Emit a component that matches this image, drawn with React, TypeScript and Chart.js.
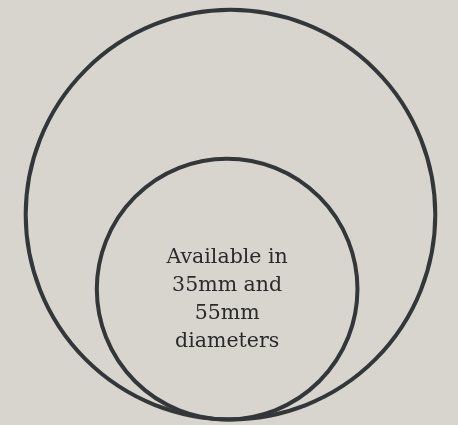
import React, { useEffect, useRef } from "react";
import { Chart, registerables } from "chart.js";

Chart.register(...registerables);

// Circle diameters (mm) and small horizontal offsets of their centres (mm)
const diametersMm = [55, 35];
const centerOffsetsMm = [0, -0.45];
const labelLines = ["Available in", "35mm and", "55mm", "diameters"];

// Axis extents (mm) – shared scale so circles stay round
const xRange = [-30.95, 30.55];
const yRange = [-0.75, 56.32];

const BG = "#d8d5cf";
const STROKE = "#33373a";
const TEXT = "#2a2a2a";

export default function App() {
  const ref = useRef<HTMLCanvasElement | null>(null);

  useEffect(() => {
    if (!ref.current) return;
    const labelPlugin = {
      id: "circleLabel",
      afterDatasetsDraw(chart: any) {
        const meta = chart.getDatasetMeta(0);
        const el = meta.data[1];
        if (!el) return;
        const ctx = chart.ctx;
        ctx.save();
        ctx.fillStyle = TEXT;
        ctx.font = "20.5px 'DejaVu Serif'";
        ctx.textAlign = "center";
        ctx.textBaseline = "alphabetic";
        const lh = 28;
        labelLines.forEach((t, i) => {
          ctx.fillText(t, el.x, el.y - 26 + i * lh);
        });
        ctx.restore();
      },
    };
    const chart = new Chart(ref.current, {
      type: "scatter",
      data: {
        datasets: [
          {
            data: diametersMm.map((d, i) => ({ x: centerOffsetsMm[i], y: d / 2 })),
            pointStyle: "circle",
            pointRadius: (c: any) => {
              const d = diametersMm[c.dataIndex] ?? 0;
              const s = c.chart.scales.x;
              if (!s) return 0;
              return Math.abs(s.getPixelForValue(d / 2) - s.getPixelForValue(0));
            },
            pointBorderWidth: 4,
            pointBorderColor: STROKE,
            pointBackgroundColor: "rgba(0,0,0,0)",
            showLine: false,
            clip: false as any,
          },
        ],
      },
      options: {
        responsive: false,
        maintainAspectRatio: false,
        animation: false,
        events: [],
        layout: { padding: 0 },
        plugins: { legend: { display: false }, tooltip: { enabled: false } },
        scales: {
          x: { type: "linear", min: xRange[0], max: xRange[1], display: false },
          y: { type: "linear", min: yRange[0], max: yRange[1], display: false },
        },
      },
      plugins: [labelPlugin],
    });
    return () => chart.destroy();
  }, []);

  return (
    <div style={{ position: "fixed", left: 0, top: 0, width: 458, height: 425, background: BG }}>
      <canvas ref={ref} width={458} height={425} style={{ display: "block" }} />
    </div>
  );
}
